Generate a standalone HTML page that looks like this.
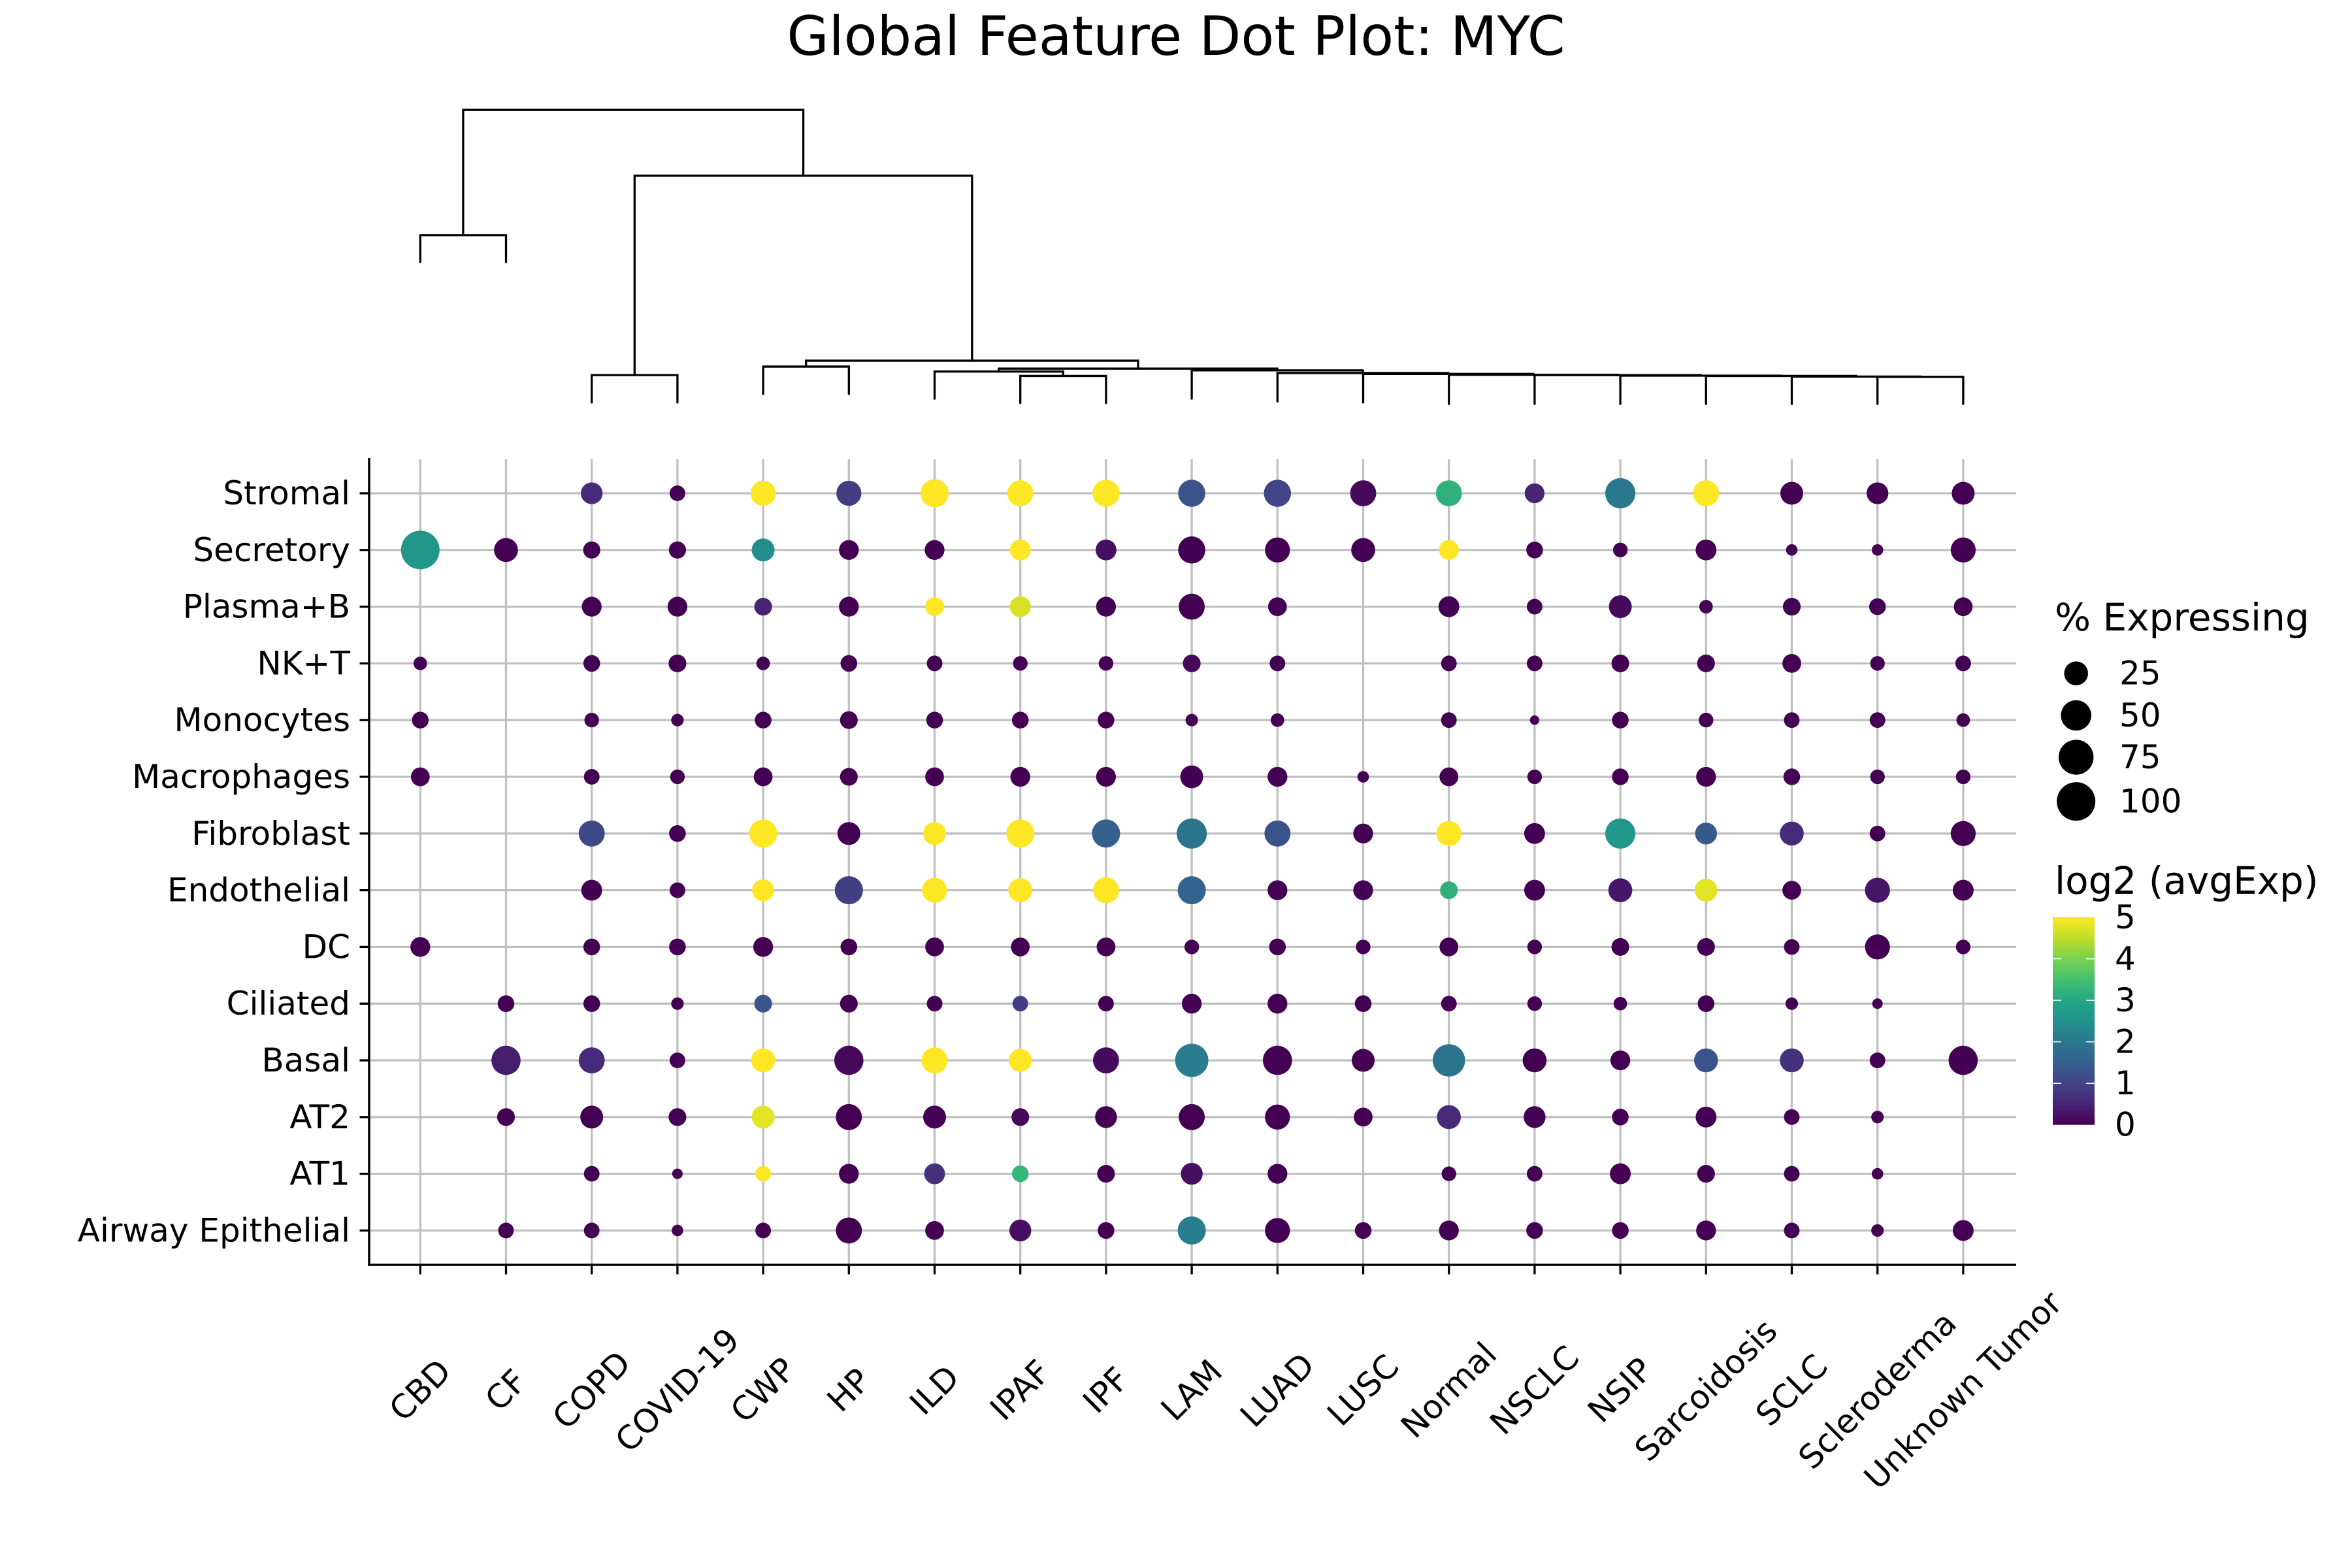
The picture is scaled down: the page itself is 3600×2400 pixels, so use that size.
<!DOCTYPE html>
<html>
<head>
<meta charset="utf-8">
<style>
html,body{margin:0;padding:0;background:#fff;}
svg{display:block;}
text{font-family:"DejaVu Sans","Liberation Sans",sans-serif;fill:#000;}
</style>
</head>
<body>
<svg id="chart" xmlns="http://www.w3.org/2000/svg" width="3600" height="2400" viewBox="0 0 3600 2400">
<rect x="0" y="0" width="3600" height="2400" fill="#fff"/>
<text x="1800" y="84" font-size="83" text-anchor="middle">Global Feature Dot Plot: MYC</text>
<g id="grid"></g>
<g id="dendro"></g>
<g id="dots"></g>
<g id="axes"></g>
<g id="legend"></g>
<g id="cbar"></g>
</svg>
<script>
const diseases = ["CBD","CF","COPD","COVID-19","CWP","HP","ILD","IPAF","IPF","LAM","LUAD","LUSC","Normal","NSCLC","NSIP","Sarcoidosis","SCLC","Scleroderma","Unknown Tumor"];
const cellTypes = ["Stromal","Secretory","Plasma+B","NK+T","Monocytes","Macrophages","Fibroblast","Endothelial","DC","Ciliated","Basal","AT2","AT1","Airway Epithelial"];
const N = null;
const pctExpressing = [
 [N,N,19,7.3,28.5,28.5,40,32,36,36,36,32,32,14.5,49,32,22,19,22],
 [100,25,9.5,9.5,22,14.5,14.5,16.8,16.8,36,28.5,25,14.5,8.8,6,16.8,3,3,28.5],
 [N,N,14.5,14.5,10.5,14.5,12.4,16.8,14.5,32,12.4,N,16.8,7.3,22,4.8,10.5,8.8,12.4],
 [4.8,N,8.8,10.5,4.8,8.8,7.3,6,6,10.5,7.3,N,7.3,7.3,10.5,10.5,12.4,6,7.3],
 [8.8,N,6,3.8,8.8,10.5,8.8,8.8,8.8,3.8,4.8,N,7.3,1.7,8.8,6,7.3,7.3,4.8],
 [12.4,N,7.3,6,12.4,10.5,12.4,14.5,14.5,22,14.5,3,12.4,6,8.8,14.5,8.8,6,6],
 [N,N,32,8.8,40,22,22,40,40,49,32,14.5,28.5,16.8,49,19.3,25,7.3,28.5],
 [N,N,16.8,7.3,19.3,40,28.5,25,32,40,14.5,14.5,10.5,16.8,25,22,12.4,28.5,16.8],
 [14.5,N,8.8,8.8,14.5,8.8,12.4,12.4,12.4,6,8.8,6,12.4,6,10.5,10.5,7.3,28.5,6],
 [N,8.8,8.8,3.8,10.5,10.5,7.3,7.3,7.3,14.5,14.5,8.8,7.3,6,4.8,8.8,3.8,2.3,N],
 [N,44.5,32,7.3,25,44.5,32,22,32,65,44.5,22,60,25,14.5,25,25,7.3,44.5],
 [N,10.5,22,10.5,22,32,22,10.5,19.3,32,28.5,12.4,25,19.3,8.8,16.8,7.3,3.8,N],
 [N,N,7.3,2.3,7.3,14.5,16.8,8.8,10.5,19.3,14.5,N,6,7.3,16.8,10.5,7.3,3,N],
 [N,7.3,7.3,3,7.3,32,12.4,19.3,8.8,40,28.5,8.8,14.5,8.8,8.8,14.5,7.3,3.8,16.8]
];
const log2AvgExp = [
 [N,N,0.6,0,5,0.9,5,5,5,1.3,1.0,0.1,3.2,0.5,2.0,5,0,0,0],
 [2.6,0,0,0,2.4,0,0,5,0.2,0,0,0,5,0,0,0,0,0,0],
 [N,N,0,0,0.5,0,5,4.7,0,0,0,N,0,0,0.15,0,0,0,0],
 [0,N,0,0,0,0,0,0,0,0.1,0,N,0,0,0,0,0,0,0],
 [0,N,0,0,0,0,0,0,0,0,0,N,0,0,0,0,0,0,0],
 [0,N,0,0,0,0,0,0,0,0,0,0,0,0,0,0,0,0,0],
 [N,N,1.1,0,5,0,5,5,1.5,1.9,1.3,0,5,0,2.6,1.4,0.6,0,0],
 [N,N,0,0,5,0.9,5,5,5,1.6,0,0,3.2,0,0.3,4.8,0,0.3,0],
 [0,N,0,0,0,0,0,0,0,0,0,0,0,0,0,0,0,0,0],
 [N,0,0,0,1.3,0,0,0.9,0,0,0,0,0,0,0,0,0,0,N],
 [N,0.4,0.6,0,5,0.1,5,5,0.15,2.1,0,0,1.9,0,0,1.3,0.7,0,0],
 [N,0,0,0,4.8,0,0,0.1,0,0,0,0,0.6,0,0,0,0,0,N],
 [N,N,0,0,5,0,0.7,3.3,0,0.2,0,N,0,0,0,0,0,0,N],
 [N,0,0,0,0,0,0,0.2,0,2.1,0,0,0,0,0,0,0,0,0]
];
const sizeLegendValues = [25,50,75,100];
const colorbarTicks = [0,1,2,3,4,5];
// dendrogram linkage: [leftChild, rightChild, height]; ids >= 19 are internal nodes
const linkLeft   = [0,2,4,7,6,17,16,15,14,13,12,11,10,9,23,21,20,19];
const linkRight  = [1,3,5,8,22,18,24,25,26,27,28,29,30,31,32,33,34,35];
const linkHeight = [57.8,10.2,13.1,9.9,11.4,9.6,9.7,9.9,10.0,10.2,10.3,10.6,10.9,11.8,12.4,15.1,78,100.4];
const leafBottom = [48.6,48.6,0.9,0.9,3.8,3.8,2.2,0.7,0.7,2.2,1.2,0.9,0.4,0.4,0.4,0.4,0.4,0.4,0.4];

const viridis = ["#440154","#482475","#414487","#355f8d","#2a788e","#21918c","#22a884","#44bf70","#7ad151","#bddf26","#fde725"];

const NS = "http://www.w3.org/2000/svg";
const X0 = 643.3, DX = 131.2, Y0 = 755, DY = 86.8;
const axLeft = 565, axRight = 3086, axTop = 701, axBottom = 1936;
function xPos(i){ return X0 + i*DX; }
function yPos(j){ return Y0 + j*DY; }
function dendroY(h){ return 620 - h*4.5; }
function radius(p){ return 18.3*Math.pow(p/25, 0.345); }
function hex2rgb(h){ return [parseInt(h.slice(1,3),16),parseInt(h.slice(3,5),16),parseInt(h.slice(5,7),16)]; }
function colorFor(v){
  let t = Math.max(0, Math.min(1, v/5)) * (viridis.length-1);
  let i = Math.min(Math.floor(t), viridis.length-2), f = t - i;
  const a = hex2rgb(viridis[i]), b = hex2rgb(viridis[i+1]);
  return "rgb(" + a.map((c,k)=>Math.round(c+(b[k]-c)*f)).join(",") + ")";
}
function mk(tag, attrs, parent){
  const e = document.createElementNS(NS, tag);
  for (const k in attrs) e.setAttribute(k, attrs[k]);
  parent.appendChild(e);
  return e;
}

const grid = document.getElementById("grid");
diseases.forEach((d,i)=>{
  const l = mk("line",{x1:xPos(i),x2:xPos(i),y1:axTop+2,y2:axBottom,stroke:"#c0c0c0","stroke-width":3.3},grid);
  
  
});
cellTypes.forEach((c,j)=>{
  const l = mk("line",{x1:axLeft,x2:axRight,y1:yPos(j),y2:yPos(j),stroke:"#c0c0c0","stroke-width":3.3},grid);
  
  
});

const dots = document.getElementById("dots");
cellTypes.forEach((c,j)=>{
  diseases.forEach((d,i)=>{
    const p = pctExpressing[j][i], v = log2AvgExp[j][i];
    if (p === null || v === null) return;
    const dot = mk("circle",{cx:xPos(i),cy:yPos(j),r:radius(p),fill:colorFor(v)},dots);
    
    
  });
});

const axes = document.getElementById("axes");
const ls = mk("line",{x1:axLeft,x2:axLeft,y1:axTop,y2:axBottom+1.6,stroke:"#000","stroke-width":3.5},axes);


const bs = mk("line",{x1:axLeft-1.6,x2:axRight,y1:axBottom,y2:axBottom,stroke:"#000","stroke-width":3.5},axes);


diseases.forEach((d,i)=>{
  const t = mk("line",{x1:xPos(i),x2:xPos(i),y1:axBottom,y2:axBottom+14.5,stroke:"#000","stroke-width":3.3},axes);
  
  
  const lab = mk("text",{x:xPos(i),y:2128,"font-size":50,"text-anchor":"middle","dominant-baseline":"central",transform:"rotate(-45 "+xPos(i)+" 2128)"},axes);
  lab.textContent = d;
  
  
});
cellTypes.forEach((c,j)=>{
  const t = mk("line",{x1:axLeft-14.5,x2:axLeft,y1:yPos(j),y2:yPos(j),stroke:"#000","stroke-width":3.3},axes);
  
  
  const lab = mk("text",{x:536,y:yPos(j),"font-size":50,"text-anchor":"end","dominant-baseline":"central"},axes);
  lab.textContent = c;
  
  
});

const dendro = document.getElementById("dendro");
const nodeX = diseases.map((d,i)=>xPos(i));
const nodeH = leafBottom.slice();
linkLeft.forEach((a,k)=>{
  const b = linkRight[k], h = linkHeight[k];
  const xa = nodeX[a], xb = nodeX[b];
  const yTop = dendroY(h);
  const path = mk("path",{d:"M"+xa+" "+dendroY(nodeH[a])+" L"+xa+" "+yTop+" L"+xb+" "+yTop+" L"+xb+" "+dendroY(nodeH[b]),fill:"none",stroke:"#000","stroke-width":3.3,"stroke-linecap":"round"},dendro);
  
  
  nodeX.push((xa+xb)/2);
  nodeH.push(h);
});

const legend = document.getElementById("legend");
const lt = mk("text",{x:3145,y:965,"font-size":58},legend);
lt.textContent = "% Expressing";


const legY = [1030.7,1095,1159,1226.7];
sizeLegendValues.forEach((v,k)=>{
  const c = mk("circle",{cx:3177.7,cy:legY[k],r:radius(v),fill:"#000"},legend);
  
  
  const t = mk("text",{x:3244,y:legY[k],"font-size":50,"dominant-baseline":"central"},legend);
  t.textContent = v;
  
  
});

const cbar = document.getElementById("cbar");
const cbTop = 1404, cbBot = 1721.7, cbL = 3142, cbR = 3206;
const defs = mk("defs",{},cbar);
const grad = mk("linearGradient",{id:"vir",x1:0,y1:1,x2:0,y2:0},defs);
viridis.forEach((c,k)=>{ mk("stop",{offset:(k/(viridis.length-1)),"stop-color":c},grad); });
const ct = mk("text",{x:3145,y:1368,"font-size":58},cbar);
ct.textContent = "log2 (avgExp)";


const cr = mk("rect",{x:cbL,y:cbTop,width:cbR-cbL,height:cbBot-cbTop,fill:"url(#vir)"},cbar);


function cbY(v){ return cbBot - (v/5)*(cbBot-cbTop); }
colorbarTicks.forEach(v=>{
  const y = cbY(v);
  if (v>0 && v<5){
    const a = mk("line",{x1:cbL,x2:cbL+13,y1:y,y2:y,stroke:"#fff","stroke-width":1.6},cbar);
    
    
    const b = mk("line",{x1:cbR-13,x2:cbR,y1:y,y2:y,stroke:"#fff","stroke-width":1.6},cbar);
    
    
  }
  const t = mk("text",{x:3237,y:y,"font-size":50,"dominant-baseline":"central"},cbar);
  t.textContent = v;
  
  
});
</script>
</body>
</html>
